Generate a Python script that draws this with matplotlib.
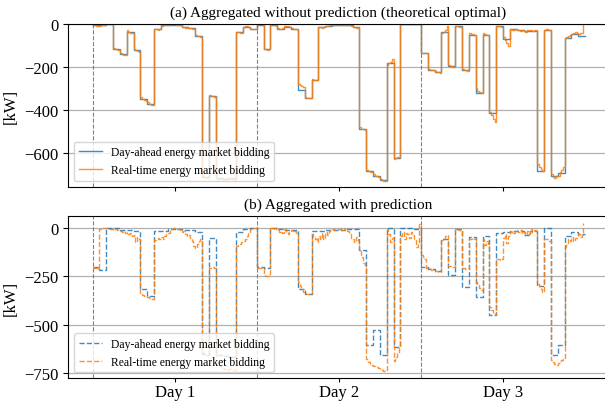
import numpy as np
import matplotlib
matplotlib.use("Agg")
import matplotlib.pyplot as plt

plt.rcParams["font.family"] = ["Liberation Serif", "DejaVu Serif"]
plt.rcParams["font.size"] = 12

# ---- (a) without prediction ----
# day-ahead bids, hourly [kW]
da_a = [-5, -5, 0, -118, -141, -35, -122, -350, -372, -25, -5, -3,
        -3, -15, -20, -55, -712, -335, -718, -720, -718, -39, -12, -24,
        -3, -118, -5, -24, -12, -24, -305, -344, -259, -14, -8, -4,
        -4, -4, -15, -488, -685, -705, -728, -180, -625, 0, 0, 0,
        -133, -212, -222, -37, -196, -10, -212, -50, -322, -52, -416, -10,
        -70, -24, -28, -32, -32, -682, -28, -708, -692, -67, -45, -57]

# real-time bids, 15 min (one row per hour)
rt_a = [
    [-5, -5, -8, -8], [-8, -5, -5, -3], [0, 0, 0, 0], [-110, -115, -120, -122],
    [-135, -140, -142, -145], [-28, -35, -40, -42], [-118, -122, -125, -128], [-340, -350, -355, -360],
    [-365, -372, -375, -378], [-22, -25, -28, -25], [-8, -5, -5, -3], [-3, -3, -2, -2],
    [-2, -3, -5, -5], [-12, -15, -18, -15], [-18, -20, -22, -25], [-50, -55, -58, -60],
    [-705, -712, -715, -718], [-330, -335, -335, -338], [-715, -720, -722, -720], [-720, -722, -718, -715],
    [-718, -720, -722, -725], [-35, -39, -40, -42], [-12, -10, -10, -12], [-22, -24, -25, -22],
    [-3, -2, -3, -4], [-115, -118, -120, -118], [-5, -3, -5, -8], [-20, -22, -24, -20],
    [-10, -8, -10, -12], [-20, -24, -25, -24], [-280, -285, -290, -295], [-340, -344, -346, -344],
    [-255, -259, -262, -259], [-12, -15, -18, -14], [-10, -8, -6, -5], [-4, -3, -4, -5],
    [-4, -5, -4, -3], [-3, -5, -6, -8], [-12, -15, -18, -15], [-480, -488, -490, -492],
    [-680, -685, -688, -690], [-700, -705, -708, -710], [-720, -725, -730, -732], [-190, -182, -175, -165],
    [-630, -625, -620, -618], [0, 0, 0, 0], [0, 0, 0, 0], [0, 0, 0, 0],
    [-133, -133, -135, -133], [-208, -212, -214, -215], [-218, -222, -225, -228], [-40, -37, -30, -10],
    [-190, -196, -198, -200], [-10, -8, -12, -15], [-208, -212, -215, -218], [-40, -45, -48, -50],
    [-300, -310, -318, -322], [-42, -48, -50, -52], [-410, -425, -440, -455], [-10, -10, -8, -12],
    [-60, -75, -90, -100], [-25, -28, -30, -24], [-28, -30, -32, -30], [-32, -35, -30, -28],
    [-30, -32, -28, -30], [-650, -665, -675, -682], [-28, -25, -28, -30], [-700, -712, -718, -705],
    [-705, -690, -680, -665], [-67, -60, -55, -50], [-45, -42, -35, -40], [-45, -42, -40, 0],
]

# ---- (b) with prediction ----
da_b = [-203, -216, -3, -3, -10, -12, -15, -318, -352, -18, -15, -8,
        -5, -10, -12, -20, -650, -53, -660, -665, -670, -20, -8, -3,
        -203, -210, -3, -8, -10, -10, -314, -340, -15, -15, -12, -10,
        -10, -5, -5, -117, -607, -529, -658, -3, -615, -3, -3, -5,
        -203, -215, -222, -55, -242, -5, -306, -45, -357, -40, -452, -25,
        -20, -15, -15, -37, -15, -300, 0, -658, -607, -43, -23, -30]

rt_b = [
    [-205, -207, -210, -212], [-5, -3, -3, -2], [-3, -5, -8, -5], [-10, -8, -12, -15],
    [-15, -20, -18, -25], [-22, -30, -25, -40], [-35, -75, -45, -55], [-340, -345, -350, -352],
    [-358, -362, -368, -370], [-65, -60, -50, -55], [-45, -60, -40, -30], [-25, -10, -5, -3],
    [-3, -5, -8, -12], [-20, -15, -30, -40], [-35, -55, -70, -95], [-105, -85, -70, -60],
    [-640, -650, -660, -655], [-210, -205, -200, -205], [-700, -710, -715, -720], [-725, -730, -735, -730],
    [-728, -732, -737, -735], [-95, -90, -85, -75], [-70, -55, -40, -25], [-8, -5, -3, -2],
    [-208, -210, -210, -212], [-245, -249, -250, -249], [-3, -5, -3, -5], [-10, -20, -15, -25],
    [-8, -20, -30, -15], [-10, -20, -15, -25], [-280, -300, -315, -330], [-335, -340, -342, -340],
    [-30, -45, -60, -75], [-40, -60, -25, -55], [-20, -35, -15, -10], [-5, -12, -8, -5],
    [-8, -3, -10, -5], [-5, -15, -30, -50], [-60, -75, -45, -70], [-120, -150, -180, -210],
    [-680, -695, -705, -710], [-712, -718, -722, -725], [-730, -735, -738, -742], [-5, -30, -75, -50],
    [-690, -670, -645, -620], [-40, -20, -60, -25], [-30, -50, -20, -35], [-60, -100, -80, 20],
    [-140, -150, -160, -205], [-210, -215, -218, -220], [-222, -225, -228, -230], [-65, -55, -40, -35],
    [-195, -195, -198, -200], [-5, -10, -8, -15], [-205, -210, -212, -215], [-55, -58, -52, -55],
    [-280, -295, -310, -320], [-60, -90, -70, -85], [-410, -425, -440, -452], [-160, -160, -165, -160],
    [-50, -30, -80, -40], [-20, -15, -25, -10], [-15, -20, -10, -25], [-20, -35, -15, -30],
    [-5, -20, -10, -15], [-290, -300, -315, -330], [-55, -60, -65, -70], [-685, -695, -705, -710],
    [-700, -690, -685, -680], [-100, -80, -60, -70], [-45, -70, -50, -40], [-30, -45, -35, 25],
]

day_starts = [0, 24, 48]
day_ticks = [12, 36, 60]
day_labels = ["Day 1", "Day 2", "Day 3"]

hours = np.arange(len(da_a) + 1)
quarters = np.arange(len(rt_a) * 4) * 0.25

fig = plt.figure(figsize=(6.05, 4.02), dpi=100)
ax1 = fig.add_axes([0.1124, 0.533, 0.8926, 0.4048])
ax2 = fig.add_axes([0.1124, 0.0565, 0.8926, 0.403], sharex=ax1)

ax1.step(hours, np.append(da_a, da_a[-1]), where="post", color="tab:blue",
         lw=1, alpha=0.85, label="Day-ahead energy market bidding")
ax1.step(quarters, np.ravel(rt_a), where="post", color="tab:orange",
         lw=1, alpha=0.85, label="Real-time energy market bidding")
ax1.set_title("(a) Aggregated without prediction (theoretical optimal)", fontsize=11)
ax1.set_ylim(-757, 0)
ax1.set_yticks([0, -200, -400, -600])

ax2.step(hours, np.append(da_b, da_b[-1]), where="post", color="tab:blue",
         lw=1, ls="--", alpha=0.85, label="Day-ahead energy market bidding")
ax2.step(quarters, np.ravel(rt_b), where="post", color="tab:orange",
         lw=1, ls="--", alpha=0.85, label="Real-time energy market bidding")
ax2.set_title("(b) Aggregated with prediction", fontsize=11)
ax2.set_ylim(-778, 60)
ax2.set_yticks([0, -250, -500, -750])

for ax in (ax1, ax2):
    for d in day_starts:
        ax.axvline(d, color="gray", ls="--", lw=0.8)
    ax.grid(axis="y", color="#b0b0b0", lw=0.9)
    ax.set_axisbelow(True)
    ax.set_ylabel("[kW]")
    ax.legend(loc="lower left", fontsize=8.4)
    ax.tick_params(axis="x", length=3, pad=1)

ax1.set_xlim(-3.59, 75.34)
ax2.set_xticks(day_ticks)
ax2.set_xticklabels(day_labels)
ax1.tick_params(axis="x", labelbottom=False)

fig.savefig("out.png", dpi=100)
